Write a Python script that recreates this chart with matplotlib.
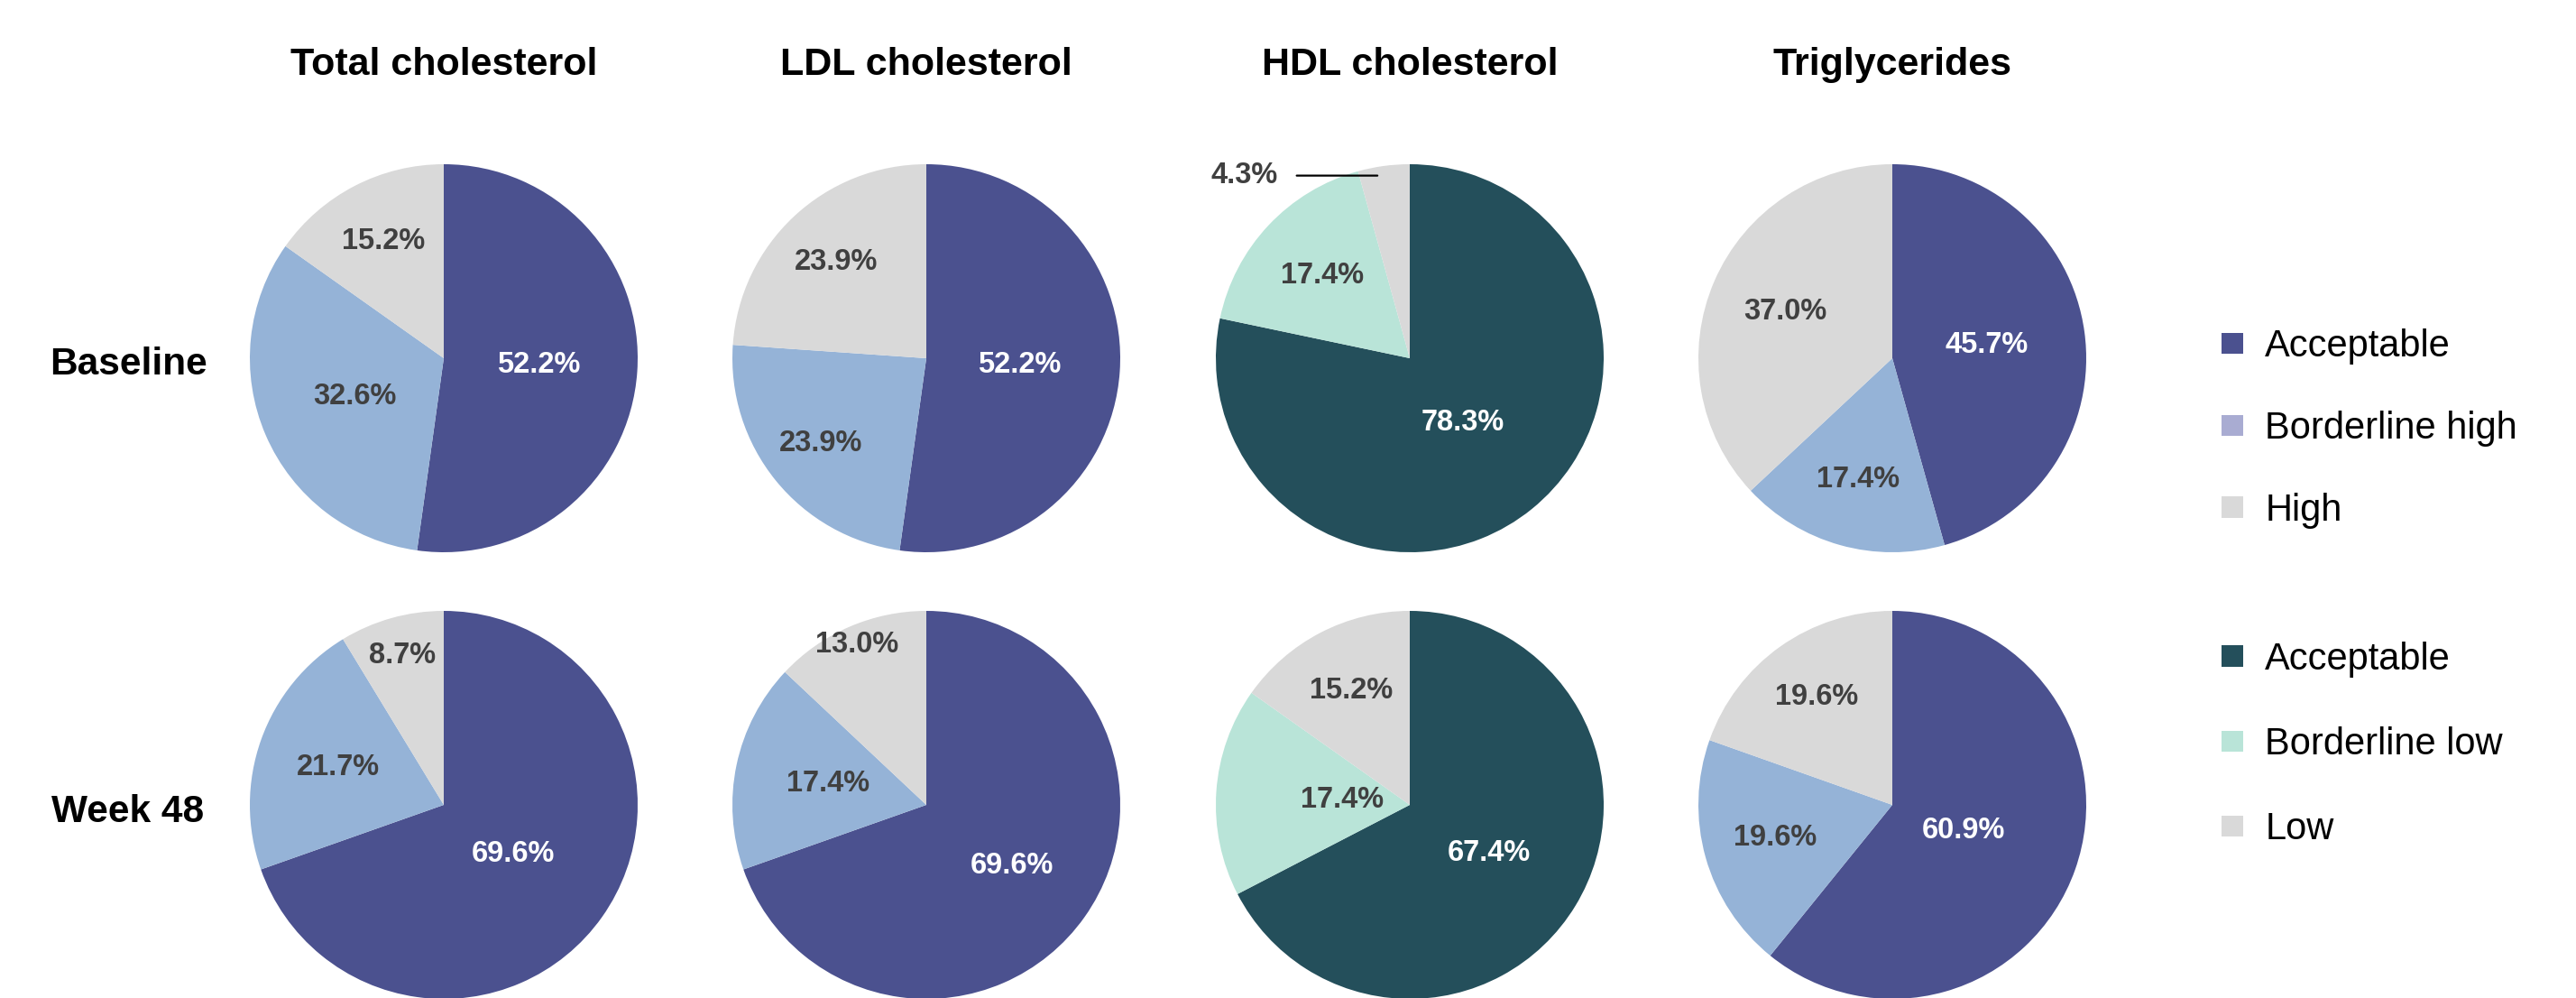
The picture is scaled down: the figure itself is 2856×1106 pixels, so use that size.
import numpy as np
import matplotlib.pyplot as plt
from matplotlib.patches import Patch

plt.rcParams['font.family'] = ['Liberation Sans', 'DejaVu Sans']

# data (percent of patients), slice order: Acceptable, Borderline, High/Low
columns = ['Total cholesterol', 'LDL cholesterol', 'HDL cholesterol', 'Triglycerides']
rows = ['Baseline', 'Week 48']
baseline = [[52.2, 32.6, 15.2], [52.2, 23.9, 23.9], [78.3, 17.4, 4.3], [45.7, 17.4, 37.0]]
week48 = [[69.6, 21.7, 8.7], [69.6, 17.4, 13.0], [67.4, 17.4, 15.2], [60.9, 19.6, 19.6]]
legend_lipid = ['Acceptable', 'Borderline high', 'High']
legend_hdl = ['Acceptable', 'Borderline low', 'Low']

# styles
lipid_colors = ['#4B518F', '#95B3D7', '#D9D9D9']
hdl_colors = ['#244F5B', '#B9E4D8', '#D9D9D9']
legend_lipid_colors = ['#4B518F', '#A9ACD2', '#D9D9D9']
txt_colors = ['white', '#404040', '#404040']

# label radial distances per slice (fraction of radius)
lab_r = [[[0.49, 0.5, 0.68], [0.48, 0.7, 0.68], [0.43, 0.62, None], [0.49, 0.65, 0.6]],
         [[0.44, 0.58, 0.8], [0.54, 0.52, 0.9], [0.48, 0.35, 0.66], [0.39, 0.63, 0.68]]]

W, H = 2856, 1106
R = 215
col_x = [492, 1027, 1563, 2098]
row_y = [397, 892]

fig = plt.figure(figsize=(W / 100, H / 100), dpi=100)

for r, data in enumerate([baseline, week48]):
    for c in range(4):
        cx, cy = col_x[c], row_y[r]
        ax = fig.add_axes([(cx - 1.25 * R) / W, (H - cy - 1.25 * R) / H, 2.5 * R / W, 2.5 * R / H])
        vals = data[c]
        cols = hdl_colors if c == 2 else lipid_colors
        it = iter(vals)
        wedges, texts, autotexts = ax.pie(vals, colors=cols, startangle=90, counterclock=False,
                                          autopct=lambda p, it=it: f'{next(it):.1f}%',
                                          pctdistance=0.6, wedgeprops=dict(linewidth=0),
                                          textprops=dict(fontsize=23.5, fontweight='bold'))
        ax.set_xlim(-1.25, 1.25)
        ax.set_ylim(-1.25, 1.25)
        ax.set_aspect('equal')
        for i, t in enumerate(autotexts):
            t.set_color(txt_colors[i])
            d = lab_r[r][c][i]
            if d is None:
                # small slice: label outside with leader line
                t.set_visible(False)
                w = wedges[i]
                mid = np.deg2rad((w.theta1 + w.theta2) / 2)
                xy = (0.95 * np.cos(mid), 0.95 * np.sin(mid))
                ax.annotate(t.get_text(), xy=xy, xytext=(-0.68, xy[1]),
                            ha='right', va='center', fontsize=23.5, fontweight='bold',
                            color='#404040', annotation_clip=False,
                            arrowprops=dict(arrowstyle='-', color='black', lw=1.6,
                                            shrinkA=13, shrinkB=6, relpos=(1, 0.5)))
            else:
                x, y = t.get_position()
                t.set_position((x * d / 0.6, y * d / 0.6))

for c, name in enumerate(columns):
    fig.text(col_x[c] / W, 1 - 72 / H, name, ha='center', va='center', fontsize=31, fontweight='bold')

for r, name in enumerate(rows):
    fig.text(142 / W, 1 - [404, 900][r] / H, name, ha='center', va='center', fontsize=30.5, fontweight='bold')

h1 = [Patch(facecolor=col, edgecolor='none') for col in legend_lipid_colors]
h2 = [Patch(facecolor=col, edgecolor='none') for col in hdl_colors]
for handles, labels, yc, sp in [(h1, legend_lipid, 475, 1.22), (h2, legend_hdl, 825, 1.3)]:
    fig.legend(handles, labels, loc='center left', bbox_to_anchor=(2463 / W, 1 - yc / H),
               frameon=False, fontsize=30, handlelength=0.58, handleheight=0.48,
               handletextpad=0.58, labelspacing=sp, borderpad=0, borderaxespad=0)

fig.savefig('out.png', dpi=100)
